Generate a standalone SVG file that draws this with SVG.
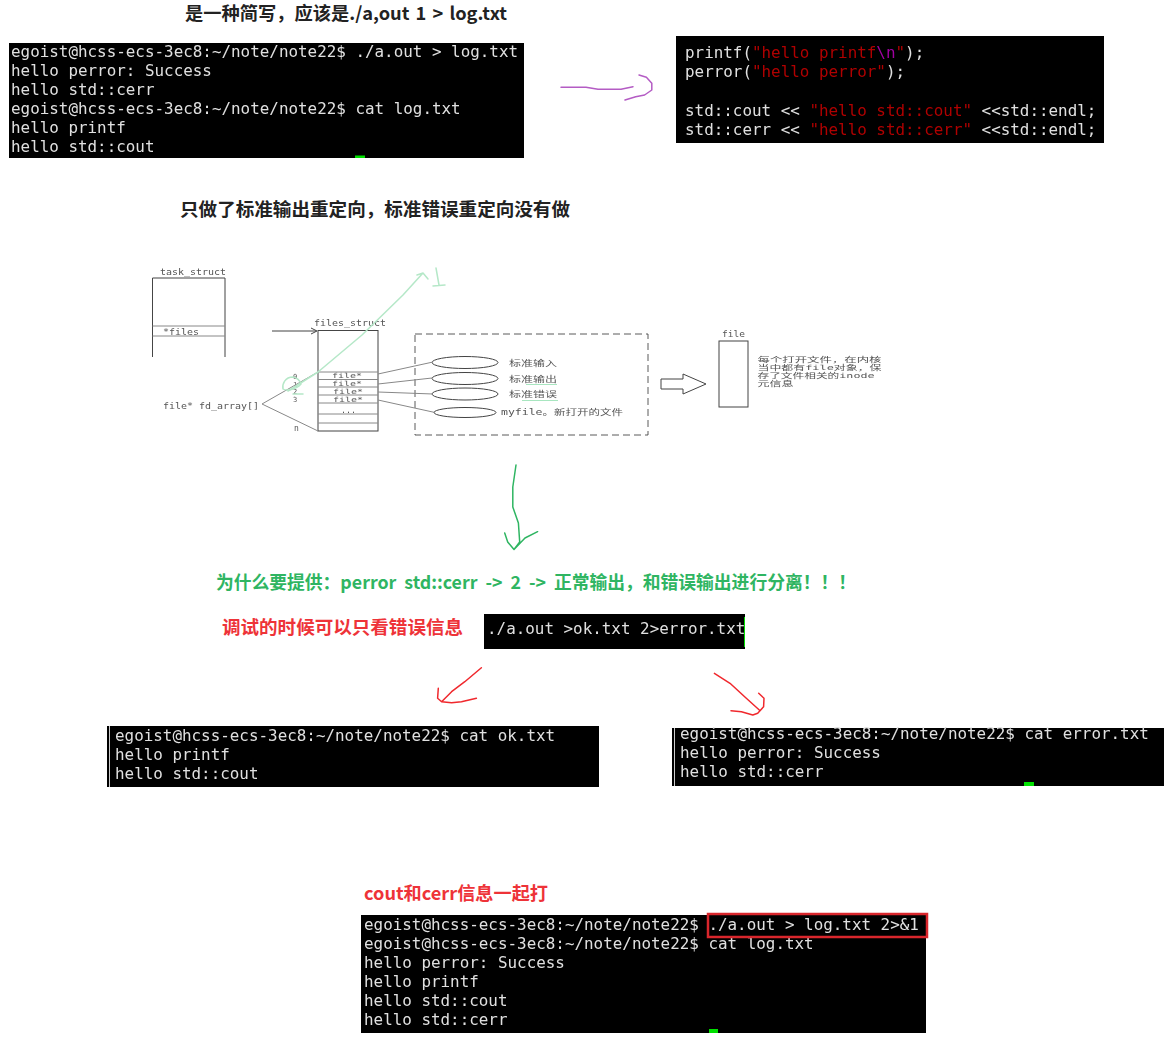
<svg xmlns="http://www.w3.org/2000/svg" width="1171" height="1041" viewBox="0 0 1171 1041">
<defs>
<filter id="soft" x="-5%" y="-5%" width="110%" height="110%"><feGaussianBlur stdDeviation="0.35"/></filter>
<filter id="softer" x="-5%" y="-5%" width="110%" height="110%"><feGaussianBlur stdDeviation="0.4"/></filter>
</defs>
<style>
.term{fill:#000}
.t{font-family:"DejaVu Sans Mono","Liberation Mono",monospace;font-size:15.9px;fill:#e0e0e0;white-space:pre}
.r{fill:#b00000}
.m{fill:#a000a0}
.cur{fill:#00e000}
.h{font-family:"Noto Sans CJK SC","Open Sans",sans-serif;font-weight:700;font-size:18px;word-spacing:2px}
.dk{fill:#222}
.gn{fill:#2fb562}
.rd{fill:#ee3338}
.dl{fill:none;stroke:#444;stroke-width:1}
.dl2{fill:none;stroke:#888;stroke-width:1}
.dt{font-family:"DejaVu Sans Mono","Noto Sans CJK SC",monospace;font-size:8px;fill:#555}
.ds{font-size:7px}
.pen{fill:none;stroke-linecap:round;stroke-linejoin:round;stroke-width:1.5}
</style>

<g id="heading-1"><text class="h dk" x="185" y="19.500" textLength="322" lengthAdjust="spacingAndGlyphs">是一种简写，应该是./a,out 1 &gt; log.txt</text></g>

<g id="terminal-1" filter="url(#soft)">
<rect class="term" x="9" y="43" width="515" height="115"/>
<text class="t" x="11" y="56.500">egoist@hcss-ecs-3ec8:~/note/note22$ ./a.out &gt; log.txt</text>
<text class="t" x="11" y="75.500">hello perror: Success</text>
<text class="t" x="11" y="94.500">hello std::cerr</text>
<text class="t" x="11" y="113.500">egoist@hcss-ecs-3ec8:~/note/note22$ cat log.txt</text>
<text class="t" x="11" y="132.500">hello printf</text>
<text class="t" x="11" y="151.500">hello std::cout</text>
<rect class="cur" x="355" y="155.500" width="10" height="2.500"/>
</g>

<g id="terminal-2" filter="url(#soft)">
<rect class="term" x="676" y="36" width="428" height="107"/>
<text class="t" x="685" y="58">printf(<tspan class="r">"hello printf</tspan><tspan class="m">\n</tspan><tspan class="r">"</tspan>);</text>
<text class="t" x="685" y="77">perror(<tspan class="r">"hello perror"</tspan>);</text>
<text class="t" x="685" y="115.500">std::cout &lt;&lt; <tspan class="r">"hello std::cout"</tspan> &lt;&lt;std::endl;</text>
<text class="t" x="685" y="134.500">std::cerr &lt;&lt; <tspan class="r">"hello std::cerr"</tspan> &lt;&lt;std::endl;</text>
</g>

<g id="heading-2"><text class="h dk" x="180" y="215.500" textLength="390" lengthAdjust="spacingAndGlyphs">只做了标准输出重定向，标准错误重定向没有做</text></g>

<g id="task-struct" filter="url(#softer)">
<path class="dl" d="M152.500 357V278H225V357"/>
<path class="dl2" d="M152.500 326H225M152.500 336H225"/>
<text class="dt" x="160" y="275" textLength="66" lengthAdjust="spacingAndGlyphs">task_struct</text>
<text class="dt" x="163" y="335" textLength="36" lengthAdjust="spacingAndGlyphs">*files</text>
</g>

<g id="files-struct" filter="url(#softer)">
<rect class="dl" x="318" y="330.500" width="60" height="100.500"/>
<path class="dl2" d="M318 372H378M318 379.500H378M318 387H378M318 395H378M318 403H378M318 414H378M318 423H378"/>
<text class="dt" x="314" y="326" textLength="72" lengthAdjust="spacingAndGlyphs">files_struct</text>
<text class="dt ds" x="332" y="378" textLength="30" lengthAdjust="spacingAndGlyphs">file*</text>
<text class="dt ds" x="332" y="386" textLength="30" lengthAdjust="spacingAndGlyphs">file*</text>
<text class="dt ds" x="333" y="394" textLength="30" lengthAdjust="spacingAndGlyphs">file*</text>
<text class="dt ds" x="333" y="402" textLength="30" lengthAdjust="spacingAndGlyphs">file*</text>
<text class="dt" x="341" y="413" textLength="15" lengthAdjust="spacingAndGlyphs">...</text>
<text class="dt ds" x="293" y="379">0</text>
<text class="dt ds" x="293" y="386.500">1</text>
<text class="dt ds" x="293" y="394">2</text>
<text class="dt ds" x="293" y="402">3</text>
<text class="dt" x="294" y="431">n</text>
<text class="dt" x="163" y="409" textLength="96" lengthAdjust="spacingAndGlyphs">file* fd_array[]</text>
</g>

<g id="standard-streams" filter="url(#softer)">
<rect x="415" y="334" width="233" height="101" fill="none" stroke="#333" stroke-width="0.800" stroke-dasharray="7 4"/>
<ellipse class="dl" cx="465" cy="362.500" rx="33" ry="6"/>
<ellipse class="dl" cx="465" cy="378.500" rx="33" ry="6"/>
<ellipse class="dl" cx="465" cy="394" rx="33" ry="6"/>
<ellipse class="dl" cx="465" cy="412.500" rx="31" ry="5"/>
<text class="dt" x="509" y="366" textLength="48" lengthAdjust="spacingAndGlyphs">标准输入</text>
<text class="dt" x="509" y="381.500" textLength="48" lengthAdjust="spacingAndGlyphs">标准输出</text>
<text class="dt" x="509" y="397" textLength="48" lengthAdjust="spacingAndGlyphs">标准错误</text>
<text class="dt" x="501" y="415" textLength="122" lengthAdjust="spacingAndGlyphs">myfile。新打开的文件</text>
</g>

<g id="file-object" filter="url(#softer)">
<rect class="dl" x="719" y="341" width="29" height="66"/>
<text class="dt" x="722" y="337" textLength="23" lengthAdjust="spacingAndGlyphs">file</text>
<text class="dt ds" x="757.500" y="362" textLength="124" lengthAdjust="spacingAndGlyphs">每个打开文件，在内核</text>
<text class="dt ds" x="757.500" y="370" textLength="124" lengthAdjust="spacingAndGlyphs">当中都有file对象，保</text>
<text class="dt ds" x="757.500" y="378" textLength="117" lengthAdjust="spacingAndGlyphs">存了文件相关的inode</text>
<text class="dt ds" x="757.500" y="386" textLength="36" lengthAdjust="spacingAndGlyphs">元信息</text>
</g>

<g id="connectors">
<g filter="url(#softer)">
<path class="dl" d="M272 331H316M311 328L317 331L311 334"/>
<path class="dl2" d="M318 372L262 404L318 431"/>
<path class="dl2" d="M378 374L433 362M378 384L432 378M378 392L433 394M378 400L435 412.500"/>
<path class="dl" d="M661 379H683V374L706 384L683 394V389H661Z"/>
<path d="M526 384.500H557M522 400.500H558" fill="none" stroke="#a8e6c0"/>
</g>
<path class="pen" stroke="#b5e8c8" stroke-width="1.200" d="M288 391L318 372L362 335L403 295L423 273M417 275L423 273L428 279"/>
<path class="pen" stroke="#b5e8c8" stroke-width="1.200" d="M436 268L439 285M433 286L445 285"/>
<path class="pen" stroke="#b5e8c8" stroke-width="1.200" d="M293 377C285 377 282 384 283 389C286 391 296 390 301 384C300 381 298 378 293 377ZM293 394H303"/>
<path class="pen" stroke="#b45cc4" d="M561 87.300H586L598 89.300H621L633 86.700M639 75L646.400 77.300L651.800 83.300V90L644.600 95L635.700 96.700L625 100"/>
<path class="pen" stroke="#2fb562" d="M516 465L512.800 487V507L518.400 523L519.700 542L514 549.500L507.700 542L504.700 533M514 549.500L525 538L537.600 531.700"/>
<path class="pen" stroke="#f0282d" d="M481.400 667.700L464.800 681.700L451.600 691.700L441.600 701.700L437.600 698.300L438.300 688.300M441.600 701.700L451.600 702.700L461.500 701.700L476.400 698.300"/>
<path class="pen" stroke="#f0282d" d="M714.400 673.300L730 683.300L746.300 698.300L759.300 710M758.700 693.300L764 698.300L763.600 706.700L757.700 713.300L752.800 715L741.400 711.700L731 710.700"/>
</g>

<g id="heading-3"><text class="h gn" x="216" y="588.500" textLength="640" lengthAdjust="spacingAndGlyphs" style="word-spacing:4px">为什么要提供：perror std::cerr -&gt; 2 -&gt; 正常输出，和错误输出进行分离！！！</text></g>
<g id="heading-4"><text class="h rd" x="222" y="633.500" textLength="241" lengthAdjust="spacingAndGlyphs">调试的时候可以只看错误信息</text></g>

<g id="terminal-3" filter="url(#soft)">
<rect class="term" x="484" y="614" width="261" height="35"/>
<text class="t" x="487" y="634">./a.out &gt;ok.txt 2&gt;error.txt</text>
<rect class="cur" x="744" y="617" width="1" height="30"/>
</g>

<g id="terminal-ok" filter="url(#soft)">
<rect class="term" x="107" y="726" width="492" height="61"/>
<rect x="109" y="726" width="1" height="61" fill="#ccc"/>
<text class="t" x="115" y="741">egoist@hcss-ecs-3ec8:~/note/note22$ cat ok.txt</text>
<text class="t" x="115" y="760">hello printf</text>
<text class="t" x="115" y="779">hello std::cout</text>
</g>

<g id="terminal-error" filter="url(#soft)">
<rect class="term" x="672" y="728" width="492" height="58"/>
<rect x="674" y="728" width="1" height="58" fill="#ccc"/>
<text class="t" x="680" y="739">egoist@hcss-ecs-3ec8:~/note/note22$ cat error.txt</text>
<text class="t" x="680" y="758">hello perror: Success</text>
<text class="t" x="680" y="777">hello std::cerr</text>
<rect class="cur" x="1024" y="782" width="10" height="4"/>
</g>

<g id="heading-5"><text class="h rd" x="364" y="899.500" textLength="184" lengthAdjust="spacingAndGlyphs">cout和cerr信息一起打</text></g>

<g id="terminal-4" filter="url(#soft)">
<rect class="term" x="361" y="915" width="565" height="118"/>
<text class="t" x="364" y="930">egoist@hcss-ecs-3ec8:~/note/note22$ ./a.out &gt; log.txt 2&gt;&amp;1</text>
<text class="t" x="364" y="949">egoist@hcss-ecs-3ec8:~/note/note22$ cat log.txt</text>
<text class="t" x="364" y="968">hello perror: Success</text>
<text class="t" x="364" y="987">hello printf</text>
<text class="t" x="364" y="1006">hello std::cout</text>
<text class="t" x="364" y="1025">hello std::cerr</text>
<rect class="cur" x="709" y="1029" width="9" height="4"/>
</g>
<g id="highlight"><rect x="708" y="914" width="219" height="23" fill="none" stroke="#d9262c" stroke-width="2.500"/></g>
</svg>
